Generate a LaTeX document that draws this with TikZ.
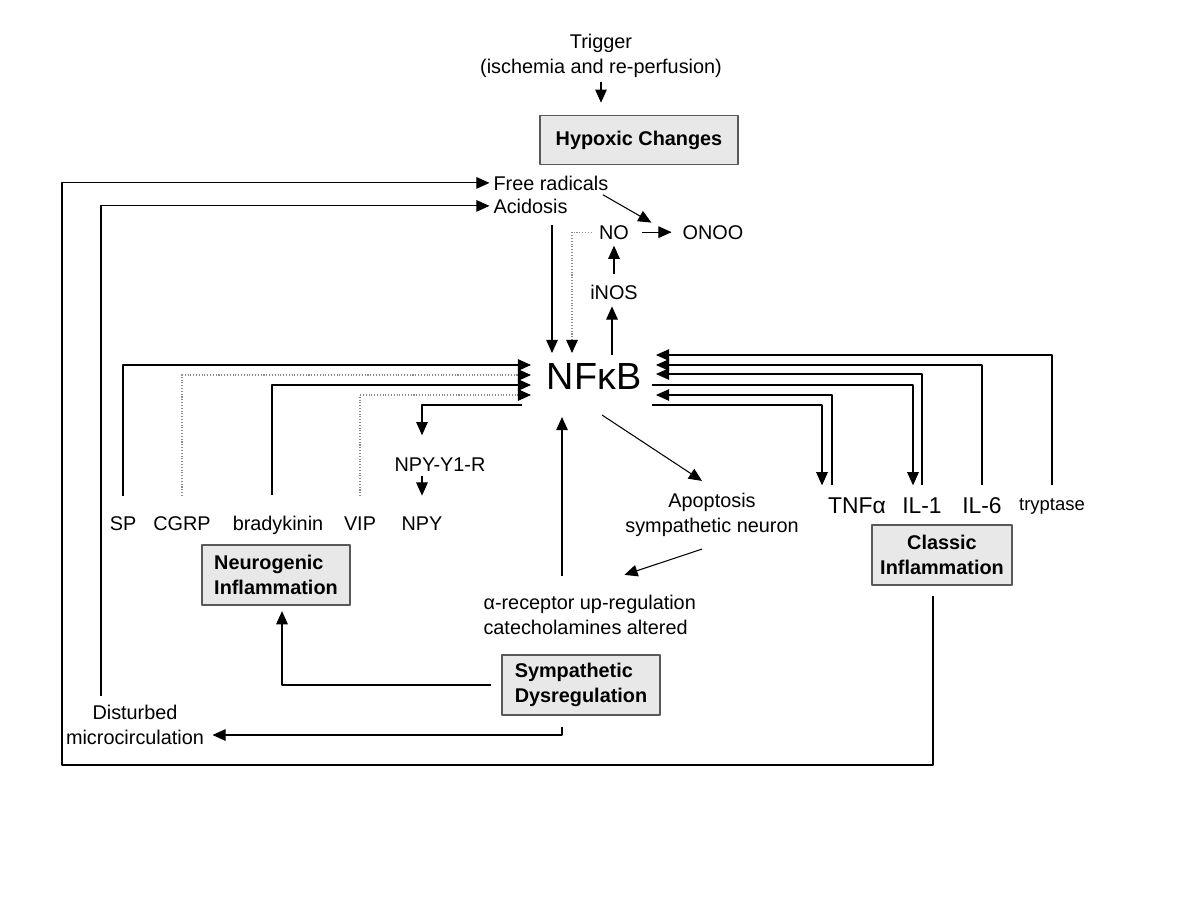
\documentclass[tikz,border=0pt]{standalone}
\usepackage{fontspec}
\setmainfont{Liberation Sans}
\usetikzlibrary{arrows.meta,calc}
\begin{document}
\begin{tikzpicture}[>={Triangle[length=7.5pt,width=6.6pt]}, line join=round, font=\fontsize{11.3}{14}\selectfont, x=0.02cm, y=-0.02cm, line width=0.6pt,
    box/.style={draw=black!65, line width=1pt, fill=black!9, font=\fontsize{11.3}{14}\selectfont\bfseries, inner sep=0pt, minimum height=1.2cm, align=center},
    lbl/.style={inner sep=0pt, align=center},
    big/.style={lbl, font=\fontsize{13}{15}\selectfont},
    dots/.style={densely dotted, draw=black!45, -{Triangle[length=7.5pt,width=6.6pt,color=black]}}]
        \useasboundingbox (0,0) rectangle (1200,900);
        \node[lbl] (trigger) at (601,56) {Trigger\\(ischemia and re-perfusion)};
        \node[box, minimum width=3.96cm, minimum height=0.98cm] (hyp) at (639,140) {Hypoxic Changes};
        \node[lbl, anchor=base west] (fr) at (493,190) {Free radicals};
        \node[lbl, anchor=base west] (ac) at (493,213) {Acidosis};
        \node[lbl, anchor=base] (no) at (614,239) {NO};
        \node[lbl, anchor=base] (onoo) at (713,239) {ONOO};
        \node[lbl, anchor=base] (inos) at (614,299) {iNOS};
        \node[lbl, anchor=base, font=\fontsize{21.5}{24}\selectfont] (nfkb) at (594,389) {NFκB};
        \node[lbl, anchor=base] (sp) at (123,530) {SP};
        \node[lbl, anchor=base] (cgrp) at (182,530) {CGRP};
        \node[lbl, anchor=base] (brady) at (278,530) {bradykinin};
        \node[lbl, anchor=base] (vip) at (360,530) {VIP};
        \node[lbl, anchor=base] (npy) at (422,530) {NPY};
        \node[lbl, anchor=base] (npyr) at (440,471) {NPY-Y1-R};
        \node[box, minimum width=2.96cm, align=left] (neuro) at (276,575) {Neurogenic\\Inflammation};
        \node[big, anchor=base] (tnf) at (857,513) {TNFα};
        \node[big, anchor=base] (il1) at (922,513) {IL-1};
        \node[big, anchor=base] (il6) at (982,513) {IL-6};
        \node[lbl, anchor=base, font=\fontsize{10.5}{12}\selectfont] (tryp) at (1052,510) {tryptase};
        \node[box, minimum width=2.8cm] (classic) at (942,555) {Classic\\Inflammation};
        \node[lbl] (apop) at (712,515) {Apoptosis\\sympathetic neuron};
        \node[lbl, anchor=west, align=left] (alpha) at (483,615) {α-receptor up-regulation\\catecholamines altered};
        \node[box, minimum width=3.16cm, align=left] (symp) at (581,685) {Sympathetic\\Dysregulation};
        \node[lbl] (dist) at (135,725) {Disturbed\\microcirculation};
        \coordinate (pL1) at ($(nfkb.center)+(-63,-11)$);
        \coordinate (pL2) at ($(nfkb.center)+(-63,-1)$);
        \coordinate (pL3) at ($(nfkb.center)+(-63,9)$);
        \coordinate (pL4) at ($(nfkb.center)+(-63,19)$);
        \coordinate (pL5) at ($(nfkb.center)+(-72,29)$);
        \coordinate (pR1) at ($(nfkb.center)+(62,-21)$);
        \coordinate (pR2) at ($(nfkb.center)+(62,-11)$);
        \coordinate (pR3) at ($(nfkb.center)+(62,-2)$);
        \coordinate (pR4) at ($(nfkb.center)+(58,9)$);
        \coordinate (pR5) at ($(nfkb.center)+(62,19)$);
        \coordinate (pR6) at ($(nfkb.center)+(58,29)$);
        \coordinate (pT1) at ($(nfkb.center)+(-42,-23)$);
        \coordinate (pT2) at ($(nfkb.center)+(-22,-23)$);
        \coordinate (pT3) at ($(nfkb.center)+(18,-21)$);
        \coordinate (pB1) at ($(nfkb.center)+(-32,41)$);
        \coordinate (pB2) at ($(nfkb.center)+(8,39)$);
        \coordinate (loop) at (62,765);
        \draw[->, shorten <=2pt, shorten >=6.8pt] (trigger.south) -- (trigger.south |- hyp.north);
        \draw[->, shorten >=2pt] ($(classic.south)+(-9,10)$) |- (loop) |- (fr.west);
        \draw[->, shorten >=2pt] ($(dist.north)+(-34,-9)$) |- (ac.west);
        \draw[->] ($(fr.south east)+(-6,4)$) -- ($(no.north east)+(22,-2)$);
        \draw[->, shorten <=7pt, shorten >=6pt] (no.east) -- (onoo.west);
        \draw[->, shorten <=6pt, shorten >=3.4pt] (inos.north) -- (no.south);
        \draw[->, shorten >=3.8pt] (pT3) -- (pT3 |- inos.south);
        \draw[->, shorten <=6.2pt] (ac.south -| pT1) -- (pT1);
        \draw[dots, shorten <=4pt] (no.west) -| (pT2);
        \draw[->, shorten <=11.2pt] (sp.north) |- (pL1);
        \draw[dots, shorten <=11.2pt] (cgrp.north) |- (pL2);
        \draw[->, shorten <=11.2pt] ($(brady.north)+(-6,0)$) |- (pL3);
        \draw[dots, shorten <=11.2pt] (vip.north) |- (pL4);
        \draw[->, shorten >=12.3pt] (pL5) -| (npyr.north -| npy.north);
        \draw[->, shorten <=2.3pt, shorten >=11.5pt] (npyr.south -| npy.north) -- (npy.north);
        \draw[->, shorten <=7pt] (tryp.north) |- (pR1);
        \draw[->, shorten <=6.5pt] (il6.north) |- (pR2);
        \draw[->, shorten <=6.5pt] (il1.north) |- (pR3);
        \draw[->, shorten >=6.5pt] (pR4) -| ($(il1.north)+(-9,0)$);
        \draw[->, shorten <=6.5pt] ($(tnf.north)+(-25,0)$) |- (pR5);
        \draw[->, shorten >=6.5pt] (pR6) -| ($(tnf.north)+(-35,0)$);
        \draw[->] (pB2) -- ($(apop.north)+(-10,-12)$);
        \draw[->] ($(apop.south)+(-10,12)$) -- ($(alpha.north east)+(-72,-20)$);
        \draw[->, shorten <=11pt] (alpha.north -| pB1) -- (pB1);
        \draw[->, shorten <=5.7pt, shorten >=3pt] (symp.west) -| ($(neuro.south)+(6,0)$);
        \draw[->] ($(symp.south)+(-19,11)$) |- ($(dist.east)+(8,10)$);
    \end{tikzpicture}
\end{document}
